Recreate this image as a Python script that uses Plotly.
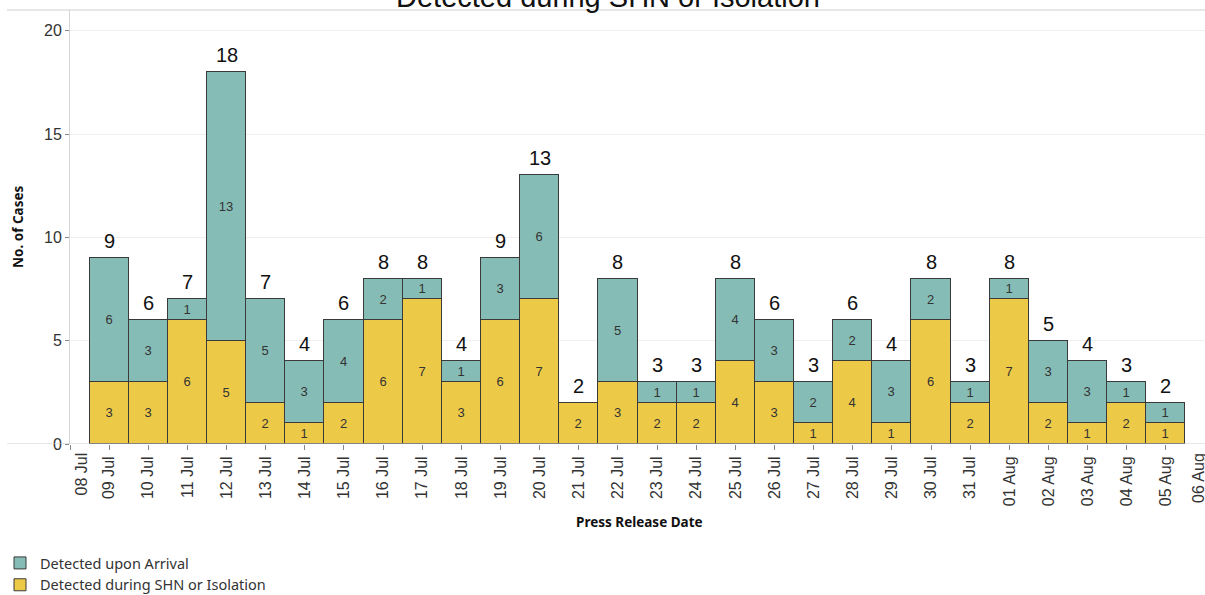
import datetime as dt
import plotly.graph_objects as go

dates = ["2020-07-09", "2020-07-10", "2020-07-11", "2020-07-12", "2020-07-13", "2020-07-14",
         "2020-07-15", "2020-07-16", "2020-07-17", "2020-07-18", "2020-07-19", "2020-07-20",
         "2020-07-21", "2020-07-22", "2020-07-23", "2020-07-24", "2020-07-25", "2020-07-26",
         "2020-07-27", "2020-07-28", "2020-07-29", "2020-07-30", "2020-07-31", "2020-08-01",
         "2020-08-02", "2020-08-03", "2020-08-04", "2020-08-05"]
shn = [3, 3, 6, 5, 2, 1, 2, 6, 7, 3, 6, 7, 2, 3, 2, 2, 4, 3, 1, 4, 1, 6, 2, 7, 2, 1, 2, 1]
arrival = [6, 3, 1, 13, 5, 3, 4, 2, 1, 1, 3, 6, 0, 5, 1, 1, 4, 3, 2, 2, 3, 2, 1, 1, 3, 3, 1, 1]
totals = [a + b for a, b in zip(shn, arrival)]
axis_start = "2020-07-08"
axis_end = "2020-08-06"


def fmt(d):
    return dt.date.fromisoformat(d).strftime("%d %b")


TEAL = "#86BCB6"
YELLOW = "#EDC948"
EDGE = "#3a3a3a"
NUMFONT = "Liberation Sans, Arial, sans-serif"
UIFONT = "Noto Sans, Lato, sans-serif"

fig = go.Figure()
fig.add_trace(go.Bar(
    x=dates, y=shn, name="Detected during SHN or Isolation",
    marker=dict(color=YELLOW, line=dict(color=EDGE, width=1)),
    text=[str(v) if v else "" for v in shn], textposition="inside",
    insidetextanchor="middle", textangle=0,
    textfont=dict(size=13, color="#333333", family=NUMFONT),
))
fig.add_trace(go.Bar(
    x=dates, y=arrival, name="Detected upon Arrival",
    marker=dict(color=TEAL, line=dict(color=EDGE, width=1)),
    text=[str(v) if v else "" for v in arrival], textposition="inside",
    insidetextanchor="middle", textangle=0,
    textfont=dict(size=13, color="#333333", family=NUMFONT),
))

tickfont = dict(size=16, color="#333333", family=NUMFONT)

annotations = []
for d, t in zip(dates, totals):
    annotations.append(dict(x=d, y=t, xref="x", yref="y", text=str(t), showarrow=False,
                            yanchor="bottom", yshift=4,
                            font=dict(size=20, color="#111111", family=NUMFONT)))
# edge tick labels, nudged inwards like the reference
annotations.append(dict(x=axis_start, y=0, xref="x", yref="y", text=fmt(axis_start),
                        textangle=-90, showarrow=False, xanchor="center", yanchor="top",
                        xshift=11, yshift=-7, font=tickfont))
annotations.append(dict(x=axis_end, y=0, xref="x", yref="y", text=fmt(axis_end),
                        textangle=-90, showarrow=False, xanchor="center", yanchor="top",
                        xshift=-7, yshift=-7, font=tickfont))
# chart title (cut by the top edge, as in the reference)
annotations.append(dict(x=0.4736, y=1, xref="paper", yref="paper", xanchor="center",
                        yanchor="middle", yshift=13, showarrow=False,
                        text="Detected during SHN or Isolation",
                        font=dict(size=29, color="#111111", family=NUMFONT)))
# axis titles
annotations.append(dict(x=0.502, y=0, xref="paper", yref="paper", xanchor="center",
                        yanchor="middle", yshift=-78, showarrow=False,
                        text="<b>Press Release Date</b>",
                        font=dict(size=13.5, color="#111111", family=UIFONT)))
annotations.append(dict(x=0, y=0.5, xref="paper", yref="paper", xanchor="center",
                        yanchor="middle", xshift=-52, textangle=-90, showarrow=False,
                        text="<b>No. of Cases</b>",
                        font=dict(size=13.5, color="#111111", family=UIFONT)))

plot_w = 1205 - 70
left_ext = (7 - 70) / plot_w
shapes = [
    dict(type="line", xref="paper", yref="paper", x0=left_ext, x1=1, y0=1, y1=1,
         line=dict(color="#CFCFCF", width=1)),
    dict(type="line", xref="paper", yref="y", x0=left_ext, x1=1, y0=0, y1=0,
         line=dict(color="#CFCFCF", width=1)),
]

fig.update_layout(
    width=1205, height=595,
    margin=dict(l=70, r=0, t=10, b=151, autoexpand=False),
    barmode="stack", bargap=0,
    plot_bgcolor="white", paper_bgcolor="white",
    uniformtext=dict(minsize=13, mode="show"),
    annotations=annotations,
    shapes=shapes,
    legend=dict(orientation="v", traceorder="reversed",
                xref="container", yref="container", x=0.0, y=(595 - 547) / 595,
                xanchor="left", yanchor="top",
                font=dict(size=14.5, color="#333333", family=UIFONT),
                itemwidth=30, tracegroupgap=0),
    xaxis=dict(
        type="date", range=[axis_start, axis_end], tickangle=-90,
        tickmode="array", tickvals=[axis_start] + dates,
        ticktext=[""] + [fmt(d) for d in dates],
        ticks="outside", ticklen=5, tickcolor="#888888",
        showgrid=False, showline=False, zeroline=False, automargin=False,
        tickfont=tickfont, fixedrange=True,
    ),
    yaxis=dict(
        range=[0, 21], tickvals=[0, 5, 10, 15, 20],
        ticks="outside", ticklen=4, tickcolor="#888888",
        showgrid=True, gridcolor="#EFEFEF", gridwidth=1,
        showline=True, linecolor="#D6D6D6", zeroline=False,
        tickfont=tickfont, automargin=False, fixedrange=True,
    ),
)

fig.write_html("out.html", config={"displayModeBar": False},
               post_script="document.body.style.margin='0';")
